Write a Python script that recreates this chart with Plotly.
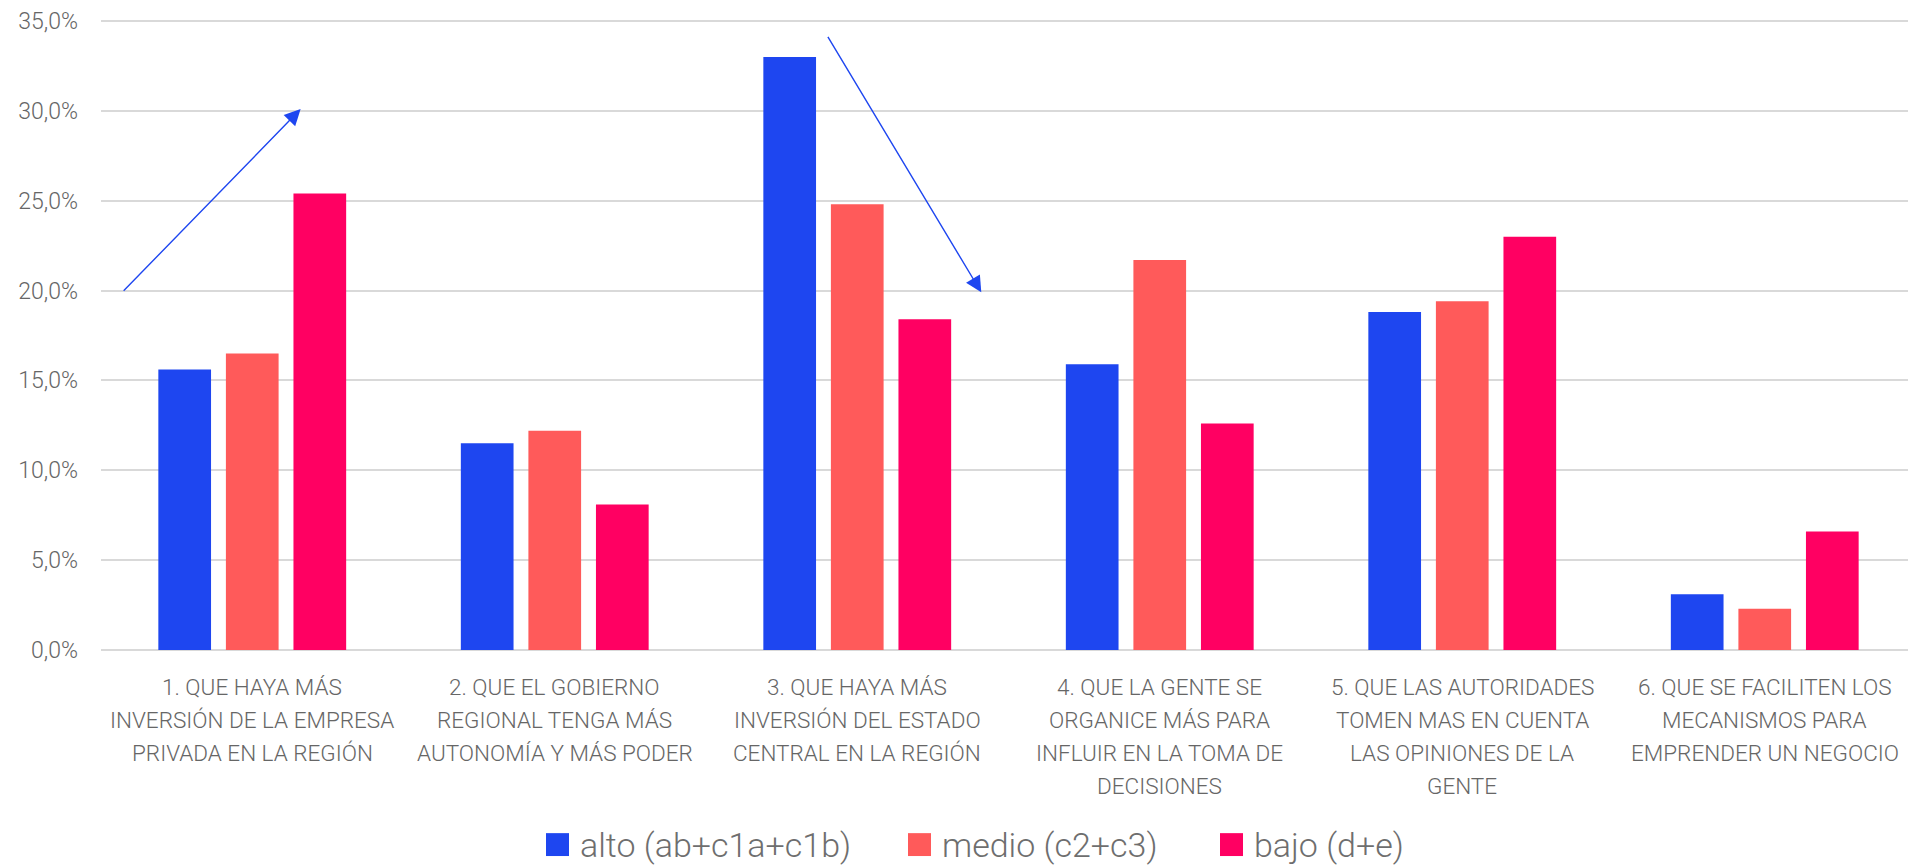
import plotly.graph_objects as go

categories = [
    "1. QUE HAYA MÁS<br>INVERSIÓN DE LA EMPRESA<br>PRIVADA EN LA REGIÓN",
    "2. QUE EL GOBIERNO<br>REGIONAL TENGA MÁS<br>AUTONOMÍA Y MÁS PODER",
    "3. QUE HAYA MÁS<br>INVERSIÓN DEL ESTADO<br>CENTRAL EN LA REGIÓN",
    "4. QUE LA GENTE SE<br>ORGANICE MÁS PARA<br>INFLUIR EN LA TOMA DE<br>DECISIONES",
    "5. QUE LAS AUTORIDADES<br>TOMEN MAS EN CUENTA<br>LAS OPINIONES DE LA<br>GENTE",
    "6. QUE SE FACILITEN LOS<br>MECANISMOS PARA<br>EMPRENDER UN NEGOCIO",
]
series_names = ["alto (ab+c1a+c1b)", "medio (c2+c3)", "bajo (d+e)"]
alto = [15.6, 11.5, 33.0, 15.9, 18.8, 3.1]
medio = [16.5, 12.2, 24.8, 21.7, 19.4, 2.3]
bajo = [25.4, 8.1, 18.4, 12.6, 23.0, 6.6]
tick_vals = [0, 5, 10, 15, 20, 25, 30, 35]
tick_text = ["0,0%", "5,0%", "10,0%", "15,0%", "20,0%", "25,0%", "30,0%", "35,0%"]

colors = ["#1E46F0", "#FF5A5A", "#FF0062"]
series_values = [alto, medio, bajo]

FONT = "Roboto"
TXT = "#666666"

fig = go.Figure()
for name, vals, col in zip(series_names, series_values, colors):
    fig.add_trace(go.Bar(x=list(range(len(categories))), y=vals, name=name,
                         marker_color=col, marker_line_width=0, showlegend=False))

# arrows (data coordinates: category index, percent)
arrows = [((-0.43, 19.9), (0.16, 30.1)), ((1.90, 34.2), (2.41, 19.9))]
for (tx, ty), (hx, hy) in arrows:
    fig.add_annotation(x=hx, y=hy, ax=tx, ay=ty, xref="x", yref="y",
                       axref="x", ayref="y", text="", showarrow=True,
                       arrowhead=2, arrowsize=2.3, arrowwidth=1.4,
                       arrowcolor="#1E46F0")

# category labels, one line per annotation for Excel-like line spacing
for i, cat in enumerate(categories):
    for j, line in enumerate(cat.split("<br>")):
        fig.add_annotation(x=i, y=0, xref="x", yref="paper", text=line,
                           showarrow=False, xanchor="center", yanchor="middle",
                           yshift=-(37 + 33 * j),
                           font=dict(family=FONT, size=22.5, color=TXT, weight=300))

# page offset (default body margin of 8px)
OFF = 8
W, H = 1916 - OFF, 866 - OFF
L, R, B = 101 - OFF, 0, 216
T = 0
Y_TOP_PX = 18 - OFF            # pixel (in figure) of the 35% gridline
Y_ZERO_PX = H - B              # pixel of the 0% line
ph = H - T - B
pw = W - L - R
y_max = 35 * (Y_ZERO_PX - T) / (Y_ZERO_PX - Y_TOP_PX)


def px(x):
    return (x - OFF - L) / pw


def py(y):
    return (H - B - (y - OFF)) / ph


# manual legend
sq_left = [546, 908, 1220]
for name, col, sx in zip(series_names, colors, sq_left):
    fig.add_shape(type="rect", xref="paper", yref="paper",
                  x0=px(sx), x1=px(sx + 23), y0=py(834), y1=py(857),
                  fillcolor=col, line_width=0)
    fig.add_annotation(x=px(sx + 32), y=py(846), xref="paper", yref="paper",
                       text=name, showarrow=False, xanchor="left",
                       yanchor="middle",
                       font=dict(family=FONT, size=34, color="#6E6E6E", weight=300))

fig.update_layout(
    width=W, height=H,
    margin=dict(l=L, r=R, t=T, b=B, pad=0),
    paper_bgcolor="white", plot_bgcolor="white",
    barmode="group", bargap=0.33, bargroupgap=0.22,
    font=dict(family=FONT, size=22, color=TXT, weight=300),
    showlegend=False,
)
fig.update_xaxes(showgrid=False, showline=False, ticks="", showticklabels=False,
                 range=[-0.5, len(categories) - 0.5])
fig.update_yaxes(range=[0, y_max], tickvals=tick_vals, ticktext=tick_text,
                 showgrid=True, gridcolor="#D9D9D9", gridwidth=1.6,
                 zeroline=True, zerolinecolor="#D9D9D9", zerolinewidth=1.6,
                 showline=False, ticks="", tickfont=dict(size=23, color=TXT),
                 ticklabelstandoff=22, ticklabeloverflow="allow")

fig.write_html("out.html")
